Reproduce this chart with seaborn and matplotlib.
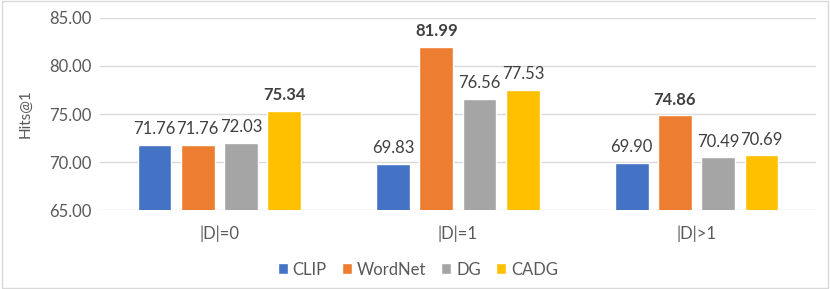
import pandas as pd
import seaborn as sns
import matplotlib.pyplot as plt
from matplotlib.patches import Rectangle

# data
groups = ['|D|=0', '|D|=1', '|D|>1']
methods = ['CLIP', 'WordNet', 'DG', 'CADG']
clip = [71.76, 69.83, 69.90]
wordnet = [71.76, 81.99, 74.86]
dg = [72.03, 76.56, 70.49]
cadg = [75.34, 77.53, 70.69]
colors = ['#4472C4', '#ED7D31', '#A5A5A5', '#FFC000']

rows = []
for m, vals in zip(methods, [clip, wordnet, dg, cadg]):
    for g, v in zip(groups, vals):
        rows.append({'group': g, 'method': m, 'value': v})
df = pd.DataFrame(rows)

sns.set_style('white')
plt.rcParams['font.family'] = ['Lato', 'DejaVu Sans']
txt = '#595959'

fig = plt.figure(figsize=(8.3, 2.89), dpi=100)
ax = fig.add_axes([0.1205, 0.273, 0.8625, 0.665])

sns.barplot(data=df, x='group', y='value', hue='method', hue_order=methods,
            palette=colors, width=0.725, gap=0.22, ax=ax, legend=True,
            saturation=1)

ax.set_ylim(65, 85)
ax.set_xlim(-0.5, 2.5)
ax.set_yticks([65, 70, 75, 80, 85])
ax.set_yticklabels([f'{t:.2f}' for t in [65, 70, 75, 80, 85]])
ax.yaxis.grid(True, color='#d9d9d9', linewidth=1)
ax.set_axisbelow(True)
for s in ax.spines.values():
    s.set_visible(False)
ax.tick_params(axis='both', length=0, labelsize=12, colors=txt, pad=6)
ax.tick_params(axis='x', pad=11)
ax.set_xlabel('')
ax.set_ylabel('Hits@1', fontsize=11, color=txt, labelpad=12)

# value labels, bold for best of each group
best = [max(c) for c in zip(clip, wordnet, dg, cadg)]
for cont in ax.containers:
    for bar in cont:
        h = bar.get_height()
        gi = int(round(bar.get_x() + bar.get_width() / 2))
        bold = abs(h - best[gi]) < 1e-9
        ax.text(bar.get_x() + bar.get_width() / 2, h + 0.8, f'{h:.2f}',
                ha='center', va='bottom', fontsize=12,
                color='#404040', fontweight='bold' if bold else 'normal')

ax.legend(loc='upper center', bbox_to_anchor=(0.444, -0.19), ncol=4,
          frameon=False, fontsize=12, handlelength=0.6, handleheight=0.6,
          handletextpad=0.3, columnspacing=0.9, labelcolor=txt)

fig.patches.append(Rectangle((0.002, 0.003), 0.996, 0.994, transform=fig.transFigure,
                             fill=False, edgecolor='#d9d9d9', linewidth=1))

fig.savefig('out.png', dpi=100)
